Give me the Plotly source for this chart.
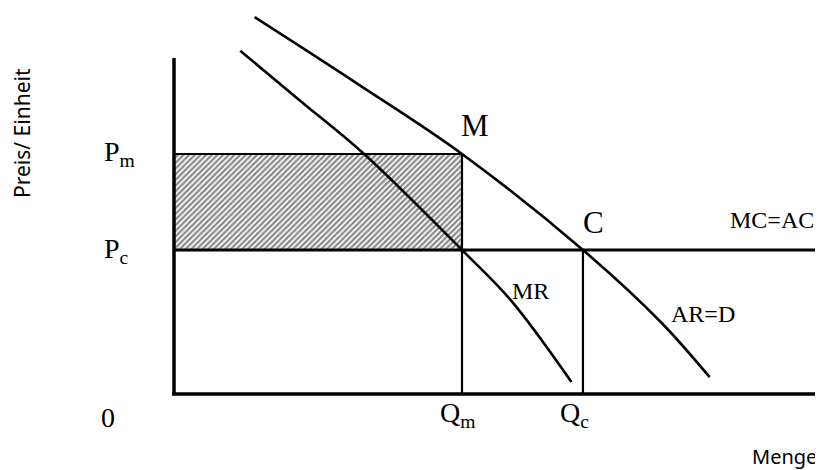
import plotly.graph_objects as go

# Nachfrage (AR=D) und Grenzerlös (MR)
ar_q = [2.8, 6.4, 10.0, 14.2, 16.9, 18.6]
ar_p = [15.7, 12.9, 10.0, 6.0, 3.0, 0.7]
mr_q = [2.3, 4.4, 6.6, 10.0, 11.7, 13.8]
mr_p = [14.3, 12.2, 10.0, 6.0, 3.9, 0.5]

# Gleichgewichtswerte
q_m, q_c = 10.0, 14.2
p_m, p_c = 10.0, 6.0
q_max, p_max = 22.54, 14.0

SERIF = "Liberation Serif, Times New Roman, serif"
SANS = "Noto Sans, Open Sans, sans-serif"


def line(x, y, width=2.2, shape="linear"):
    return go.Scatter(x=x, y=y, mode="lines", hoverinfo="skip",
                      line=dict(color="black", width=width, shape=shape))


fig = go.Figure()

# schraffierte Fläche (Monopolgewinn)
fig.add_trace(go.Scatter(
    x=[0, q_m, q_m, 0, 0], y=[p_c, p_c, p_m, p_m, p_c],
    mode="lines", fill="toself", line=dict(width=0), hoverinfo="skip",
    fillcolor="white",
    fillpattern=dict(shape="/", size=4, solidity=0.55, fgcolor="#111", bgcolor="white"),
))

fig.add_trace(line([0, q_m], [p_m, p_m], 2.2))
fig.add_trace(line([0, q_max], [p_c, p_c], 3))
fig.add_trace(line([q_m, q_m], [0, p_m], 2.2))
fig.add_trace(line([q_c, q_c], [0, p_c], 2.2))
fig.add_trace(line(ar_q, ar_p, 2.6, "spline"))
fig.add_trace(line(mr_q, mr_p, 2.6, "spline"))

# Achsen
fig.add_trace(line([0, 0], [0, p_max], 3.5))
fig.add_trace(line([-0.07, q_max], [0, 0], 3.5))

labels = [
    ("M", 10.45, 11.2, 31, "center"),
    ("C", 14.55, 7.15, 31, "center"),
    ("MC=AC", 20.77, 7.25, 24, "center"),
    ("MR", 12.38, 4.3, 24, "center"),
    ("AR=D", 18.36, 3.35, 24, "center"),
    ("P<sub>m</sub>", -2.5, 10.0, 28, "left"),
    ("P<sub>c</sub>", -2.5, 5.97, 28, "left"),
    ("0", -2.29, -0.96, 28, "center"),
    ("Q<sub>m</sub>", 9.17, -0.85, 28, "left"),
    ("Q<sub>c</sub>", 13.33, -0.85, 28, "left"),
]
for text, x, y, size, anchor in labels:
    fig.add_annotation(x=x, y=y, text=text, showarrow=False, xanchor=anchor,
                       yanchor="middle", font=dict(family=SERIF, size=size, color="black"))

fig.add_annotation(x=21.2, y=-2.6, text="Menge", showarrow=False,
                   font=dict(family=SANS, size=20, color="black"))
fig.add_annotation(x=-5.28, y=10.875, text="Preis/ Einheit", showarrow=False,
                   textangle=-90, font=dict(family=SANS, size=21, color="black"))

# die Seite hat 8px Rand, daher 815x462 mit passenden Achsenbereichen
fig.update_layout(
    width=815, height=462,
    margin=dict(l=0, r=0, t=0, b=0),
    paper_bgcolor="white", plot_bgcolor="white",
    showlegend=False,
    xaxis=dict(range=[-5.764, 22.535], visible=False, fixedrange=True),
    yaxis=dict(range=[-3.167, 16.083], visible=False, fixedrange=True),
)

fig.write_html("out.html")
